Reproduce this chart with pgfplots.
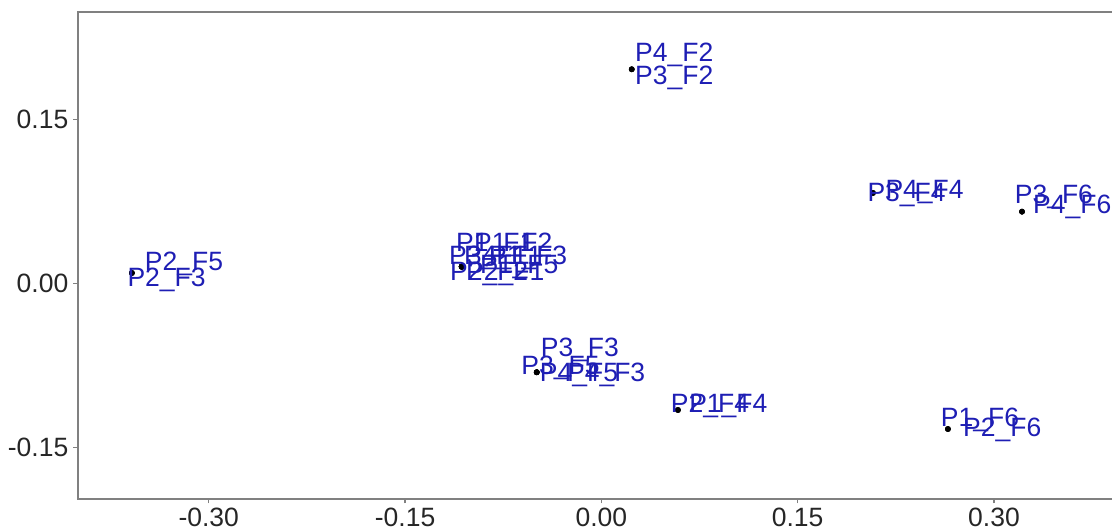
\documentclass[border=0pt]{standalone}
\usepackage{pgfplots}
\usepackage{pgfplotstable}
\pgfplotsset{compat=1.18}
\usepackage{fontspec}
\setmainfont{Liberation Sans}

\definecolor{labelblue}{RGB}{30,30,180}
\definecolor{framegray}{RGB}{128,128,128}

% score coordinates of each observation
\pgfplotstableread{
x y
0.0232 0.1959
0.0232 0.1959
-0.3587 0.0096
-0.3587 0.0096
-0.1067 0.0154
-0.1067 0.0154
-0.1067 0.0154
-0.1067 0.0154
-0.1067 0.0154
-0.1067 0.0154
-0.1067 0.0154
-0.1067 0.0154
-0.0494 -0.0812
-0.0494 -0.0812
-0.0494 -0.0812
-0.0494 -0.0812
0.0585 -0.1157
0.0585 -0.1157
0.2648 -0.1331
0.2648 -0.1331
0.2075 0.0828
0.2075 0.0828
0.3214 0.0657
0.3214 0.0657
}\scores

% label anchor (left end of the baseline) for each observation
\pgfplotstableread{
lx ly name
0.0257 0.2026 P4\_F2
0.0257 0.1816 P3\_F2
-0.3489 0.0117 P2\_F5
-0.3622 -0.0029 P2\_F3
-0.1111 0.0288 P1\_F1
-0.0973 0.0288 P1\_F2
-0.1164 0.0178 P3\_F1
-0.1050 0.0178 P4\_F1
-0.0859 0.0178 P1\_F3
-0.0927 0.0087 P1\_F5
-0.1157 0.0023 P2\_F2
-0.1034 0.0023 P2\_F1
-0.0464 -0.0670 P3\_F3
-0.0612 -0.0831 P3\_F5
-0.0471 -0.0892 P4\_F5
-0.0263 -0.0892 P4\_F3
0.0530 -0.1184 P2\_F4
0.0670 -0.1184 P1\_F4
0.2593 -0.1310 P1\_F6
0.2763 -0.1395 P2\_F6
0.2032 0.0748 P3\_F4
0.2170 0.0779 P4\_F4
0.3158 0.0727 P3\_F6
0.3298 0.0642 P4\_F6
}\labels

\begin{document}
\begin{tikzpicture}
\begin{axis}[
  at={(0,0)}, anchor=south west,
  scale only axis,
  width=1042pt, height=487pt,
  xmin=-0.3999, xmax=0.3963,
  ymin=-0.1971, ymax=0.2483,
  clip=false,
  axis line style={draw=framegray, line width=1.4pt},
  tick align=outside,
  major tick length=4.5pt,
  tick style={draw=framegray, line width=1.2pt},
  xtick pos=bottom, ytick pos=left,
  xtick={-0.30,-0.15,0,0.15,0.30},
  xticklabels={-0.30,-0.15,0.00,0.15,0.30},
  ytick={-0.15,0,0.15},
  yticklabels={-0.15,0.00,0.15},
  tick label style={font=\fontsize{26.5}{31}\selectfont, text=black!85},
  yticklabel style={anchor=east, inner sep=0pt, xshift=-5pt},
  xticklabel style={anchor=north, inner sep=0pt, yshift=-4pt},
]
\addplot[only marks, mark=*, mark size=2.7pt, mark options={fill=black, draw=black}]
  table[x=x, y=y] {\scores};
\addplot[only marks, mark=none,
  nodes near coords, point meta=explicit symbolic,
  nodes near coords style={anchor=base west, inner sep=0pt,
    font=\fontsize{26.5}{31}\selectfont, text=labelblue}]
  table[x=lx, y=ly, meta=name] {\labels};
\end{axis}
\pgfresetboundingbox
\useasboundingbox (-78pt,-33pt) rectangle (1034pt,499pt);
\end{tikzpicture}
\end{document}
